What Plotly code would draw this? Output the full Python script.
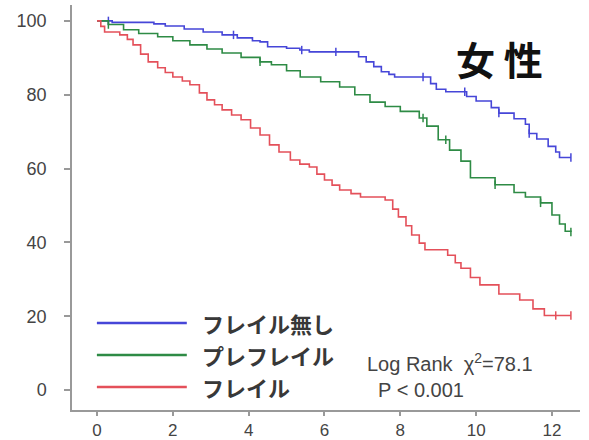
import numpy as np
import plotly.graph_objects as go

# Kaplan-Meier step data (years, survival %)
none_t = [0, 0.4, 1.5, 1.8, 2.3, 2.8, 3.3, 3.7, 4.1, 4.3, 4.5, 5.0, 5.35, 5.6, 6.9, 7.1, 7.3, 7.5,
          7.7, 7.85, 8.8, 8.95, 9.2, 9.75, 10.0, 10.4, 10.6, 11.0, 11.3, 11.4, 11.6, 11.9, 12.1, 12.2, 12.5]
none_s = [100, 99.6, 99.2, 98.6, 97.8, 97.0, 96.2, 95.4, 94.6, 94.3, 93.0, 92.6, 92.1, 91.6, 90.3, 88.9, 87.6, 86.2,
          85.5, 84.8, 83.0, 81.5, 80.8, 79.5, 78.3, 76.5, 75.0, 73.5, 72.0, 69.5, 68.0, 66.0, 64.5, 63.0, 63.0]

pre_t = [0, 0.3, 0.7, 1.1, 1.6, 2.0, 2.45, 2.9, 3.3, 3.8, 4.3, 4.6, 5.0, 5.36, 5.9, 6.4, 6.8, 7.2, 7.6,
         8.0, 8.5, 8.7, 9.0, 9.3, 9.6, 9.85, 10.5, 11.0, 11.3, 11.7, 12.0, 12.2, 12.35, 12.5]
pre_s = [100, 99.0, 97.6, 96.6, 95.7, 94.6, 93.5, 92.4, 91.3, 90.1, 88.9, 88.1, 86.5, 84.8, 83.5, 82.1, 80.0, 78.0, 76.8,
         75.5, 73.7, 71.5, 67.8, 65.0, 62.0, 57.5, 55.6, 53.5, 52.3, 50.7, 47.4, 45.0, 43.0, 42.8]

frail_t = [0, 0.1, 0.2, 0.6, 0.8, 0.95, 1.15, 1.35, 1.6, 1.8, 2.0, 2.25, 2.45, 2.7, 2.9, 3.1, 3.3, 3.55,
           3.8, 4.05, 4.3, 4.55, 4.8, 5.1, 5.35, 5.6, 5.8, 6.0, 6.2, 6.4, 6.7, 6.95, 7.6, 7.8, 7.95,
           8.15, 8.3, 8.5, 8.65, 9.25, 9.45, 9.6, 9.85, 10.1, 10.6, 11.15, 11.5, 11.8, 12.5]
frail_s = [100, 98.5, 97.0, 96.2, 95.0, 93.5, 91.0, 88.9, 87.3, 86.0, 84.8, 83.7, 82.7, 80.5, 78.6, 77.3, 75.9, 74.5,
           73.2, 71.0, 69.1, 66.4, 64.5, 62.3, 61.2, 60.4, 58.5, 56.9, 55.5, 54.2, 53.2, 52.3, 51.5, 49.0, 46.9,
           44.5, 42.0, 39.8, 38.0, 36.5, 34.5, 33.0, 30.5, 28.5, 26.0, 24.4, 22.0, 20.2, 20.2]

# censoring times
none_c = [0.3, 3.6, 5.4, 6.3, 8.6, 9.7, 10.6, 11.4, 12.5]
pre_c = [0.3, 4.3, 8.6, 9.2, 10.5, 11.7, 12.5]
frail_c = [12.1, 12.5]

labels = ["フレイル無し", "プレフレイル", "フレイル"]
colors = ["#4646d8", "#2e8b45", "#e4505a"]
series = [(none_t, none_s, none_c), (pre_t, pre_s, pre_c), (frail_t, frail_s, frail_c)]

x_ticks = [0, 2, 4, 6, 8, 10, 12]
y_ticks = [0, 20, 40, 60, 80, 100]


def step_value(t, s, at):
    idx = np.searchsorted(np.asarray(t), at, side="right") - 1
    return [s[i] for i in idx]


fig = go.Figure()
for (t, s, c), name, col in zip(series, labels, colors):
    fig.add_trace(go.Scatter(x=t, y=s, mode="lines", line=dict(color=col, width=1.6, shape="hv"),
                             name=name, showlegend=False))
    fig.add_trace(go.Scatter(x=c, y=step_value(t, s, c), mode="markers",
                             marker=dict(symbol="line-ns-open", size=6, color=col,
                                         line=dict(color=col, width=1.5)),
                             showlegend=False, hoverinfo="skip"))

# legend: long line swatches with labels beside them
bottom_px = 410
plot_h = bottom_px - 5
leg_top = (bottom_px - 323) / plot_h
leg_step = 32 / plot_h
for i, (name, col) in enumerate(zip(labels, colors)):
    yy = leg_top - i * leg_step
    fig.add_shape(type="line", xref="paper", yref="paper", x0=0.049, x1=0.226, y0=yy, y1=yy,
                  line=dict(color=col, width=2.5))
    fig.add_annotation(xref="paper", yref="paper", x=0.252, y=yy, text=name,
                       showarrow=False, xanchor="left", yanchor="middle",
                       font=dict(family="Noto Sans CJK JP", size=22, color="#383838", weight="bold"))

fig.add_annotation(xref="paper", yref="paper", x=0.577, y=(bottom_px - 375) / plot_h,
                   text="Log Rank  χ<sup>2</sup>=78.1<br>\u00a0\u00a0P < 0.001",
                   showarrow=False, xanchor="left", yanchor="middle", align="left",
                   font=dict(family="Liberation Sans", size=20, color="#444444"))
fig.add_annotation(xref="paper", yref="paper", x=0.841, y=(bottom_px - 58) / plot_h, text="女 性",
                   showarrow=False, xanchor="center", yanchor="middle",
                   font=dict(family="Noto Sans CJK JP", size=39, color="#111111", weight="bold"))

axis_common = dict(showline=True, linecolor="#999999", linewidth=1.5, ticks="outside",
                   tickcolor="#999999", tickwidth=1.5, showgrid=False, zeroline=False, automargin=False)
fig.update_xaxes(range=[-0.66, 12.74], tickvals=x_ticks, ticklen=4,
                 tickfont=dict(family="Liberation Sans", size=17, color="#444444"), **axis_common)
fig.update_yaxes(range=[-5.4, 104.3], tickvals=y_ticks, ticklen=6, ticklabelstandoff=14,
                 tickfont=dict(family="Liberation Sans", size=18, color="#444444"), **axis_common)

fig.update_layout(width=589, height=440, margin=dict(l=72, r=9, t=5, b=440 - bottom_px),
                  plot_bgcolor="white", paper_bgcolor="white")

fig.write_html("out.html")
